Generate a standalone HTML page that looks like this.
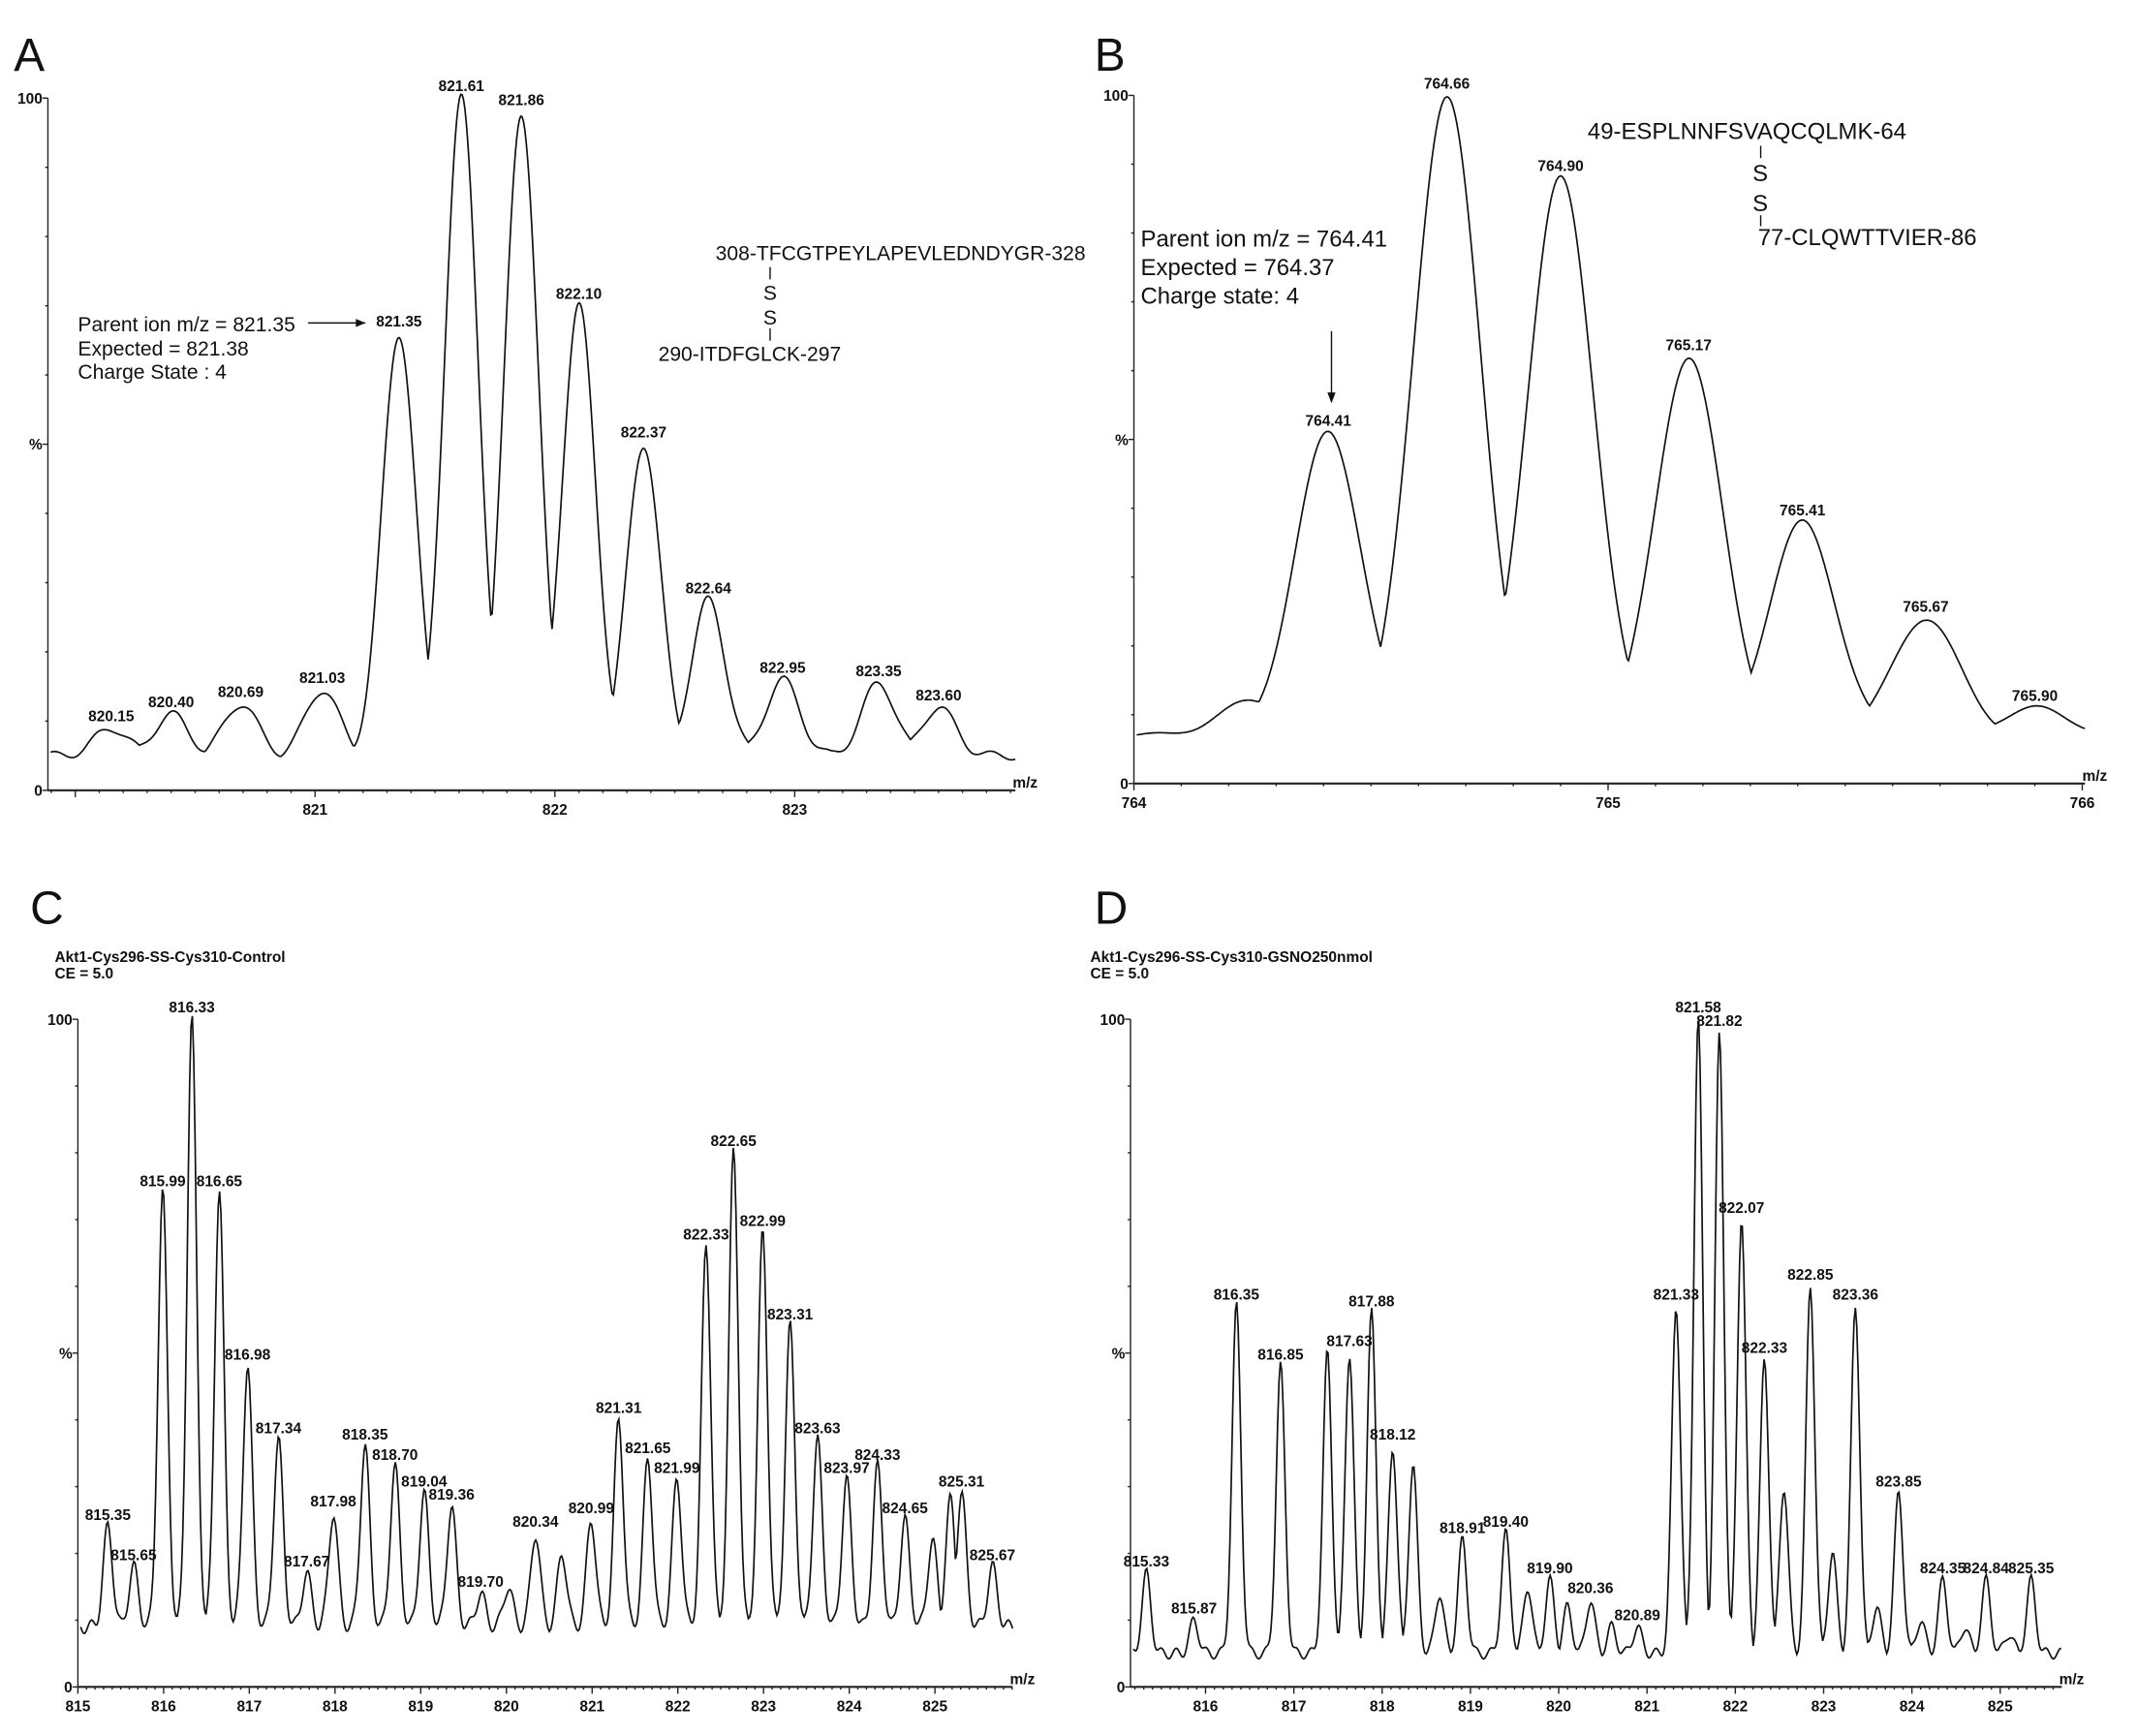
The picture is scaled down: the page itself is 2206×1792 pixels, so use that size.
<!DOCTYPE html>
<html><head><meta charset="utf-8"><style>
html,body{margin:0;padding:0;background:#fff}
svg{display:block}
text{font-family:"Liberation Sans",sans-serif;fill:#111}
.pl{font-size:11px;font-weight:bold}
.tk{font-size:11px;font-weight:bold}
.big{font-size:34px}
.ann{font-size:15px}
</style></head><body>
<svg id="fig" width="2206" height="1792" viewBox="0 0 1568 1274" xmlns="http://www.w3.org/2000/svg">
<text class="big" x="10" y="52">A</text>
<text class="big" x="803" y="52">B</text>
<text class="big" x="22" y="678">C</text>
<text class="big" x="803" y="678">D</text>
<text class="pl" x="40" y="706">Akt1-Cys296-SS-Cys310-Control</text>
<text class="pl" x="40" y="718">CE = 5.0</text>
<text class="pl" x="800" y="706">Akt1-Cys296-SS-Cys310-GSNO250nmol</text>
<text class="pl" x="800" y="718">CE = 5.0</text>
<g>
<text class="ann" x="57" y="243">Parent ion m/z = 821.35</text>
<text class="ann" x="57" y="261">Expected = 821.38</text>
<text class="ann" x="57" y="278">Charge State : 4</text>
<line x1="226" y1="237" x2="268" y2="237" stroke="#111"/><path d="M268,237 l-7,-3 v6z" fill="#111"/>
<text class="ann" x="525" y="191">308-TFCGTPEYLAPEVLEDNDYGR-328</text>
<line x1="565" y1="196" x2="565" y2="205" stroke="#111"/>
<text class="ann" x="560" y="220">S</text><text class="ann" x="560" y="238">S</text>
<line x1="565" y1="241" x2="565" y2="250" stroke="#111"/>
<text class="ann" x="483" y="265">290-ITDFGLCK-297</text>
</g>
<g>
<text class="ann" style="font-size:17px" x="837" y="181">Parent ion m/z = 764.41</text>
<text class="ann" style="font-size:17px" x="837" y="202">Expected = 764.37</text>
<text class="ann" style="font-size:17px" x="837" y="223">Charge state: 4</text>
<line x1="977" y1="243" x2="977" y2="292" stroke="#111"/><path d="M977,296 l-3,-8 h6z" fill="#111"/>
<text class="ann" style="font-size:17px" x="1165" y="102">49-ESPLNNFSVAQCQLMK-64</text>
<line x1="1292" y1="107" x2="1292" y2="116" stroke="#111"/>
<text class="ann" style="font-size:17px" x="1286" y="133">S</text><text class="ann" style="font-size:17px" x="1286" y="155">S</text>
<line x1="1292" y1="158" x2="1292" y2="166" stroke="#111"/>
<text class="ann" style="font-size:17px" x="1290" y="180">77-CLQWTTVIER-86</text>
</g>
</svg>
<script>
// Panel A data
const aMz=[820.15,820.40,820.69,821.03,821.35,821.61,821.86,822.10,822.37,822.64,822.95,823.35,823.60];
const aInt=[9,11,12.5,14.5,66,100,98,70,50,27.5,16,15.5,12];
const aTicks=[821,822,823];
// Panel B data
const bMz=[764.25,764.41,764.66,764.90,765.17,765.41,765.67,765.90];
const bInt=[12,51,100,88,62,38,24,11];
const bLabeled=[false,true,true,true,true,true,true,true];
const bTicks=[764,765,766];
// Panel C data
const cMz=[815.35,815.65,815.99,816.33,816.65,816.98,817.34,817.67,817.98,818.35,818.70,819.04,819.36,819.70,820.02,820.34,820.65,820.99,821.31,821.65,821.99,822.33,822.65,822.99,823.31,823.63,823.97,824.33,824.65,824.97,825.18,825.31,825.67];
const cInt=[24,18,74,100,74,48,37,17,26,36,33,29,27,14,15,23,20,25,40,34,31,66,80,68,54,37,31,33,25,22,28,29,18];
const cLabeled=[1,1,1,1,1,1,1,1,1,1,1,1,1,1,0,1,0,1,1,1,1,1,1,1,1,1,1,1,1,0,0,1,1];
const cTicks=[815,816,817,818,819,820,821,822,823,824,825];
// Panel D data
const dMz=[815.33,815.87,816.35,816.85,817.38,817.63,817.88,818.12,818.35,818.65,818.91,819.40,819.65,819.90,820.10,820.36,820.60,820.89,821.33,821.58,821.82,822.07,822.33,822.55,822.85,823.10,823.36,823.60,823.85,824.10,824.35,824.60,824.84,825.10,825.35];
const dInt=[17,10,57,48,50,50,56,36,33,14,22,23,15,16,12,13,9,9,57,100,98,70,49,30,60,20,57,12,29,10,16,9,16,8,16];
const dLabeled=[1,1,1,1,0,1,1,1,0,0,1,1,0,1,0,1,0,1,1,1,1,1,1,0,1,0,1,0,1,0,1,0,1,0,1];
const dTicks=[816,817,818,819,820,821,822,823,824,825];

const NS="http://www.w3.org/2000/svg";
const svg=document.getElementById('fig');
function mk(tag,attrs,parent){const e=document.createElementNS(NS,tag);for(const k in attrs)e.setAttribute(k,attrs[k]);(parent||svg).appendChild(e);return e;}

function panel(p){
  const g=mk('g',{});
  
  
  const X=m=>p.x0+(m-p.m0)*p.ppu;
  const Y=v=>p.yb-(v/100)*(p.yb-p.yt);
  const ya=mk('line',{x1:p.x0,y1:p.yt,x2:p.x0,y2:p.yb,stroke:'#222','stroke-width':1},g);
  
  
  const xa=mk('line',{x1:p.x0,y1:p.yb,x2:p.xe,y2:p.yb,stroke:'#222','stroke-width':1.5},g);
  
  
  for(let v=0;v<=100;v+=10){mk('line',{x1:p.x0-(v%50?2:4),y1:Y(v),x2:p.x0,y2:Y(v),stroke:'#222'},g);}
  let t=mk('text',{x:p.x0-4,y:Y(100)+4,'text-anchor':'end',class:'tk'},g);t.textContent='100';
  
  
  t=mk('text',{x:p.x0-4,y:Y(50)+4,'text-anchor':'end',class:'tk'},g);t.textContent='%';
  
  
  t=mk('text',{x:p.x0-4,y:Y(0)+4,'text-anchor':'end',class:'tk'},g);t.textContent='0';
  
  
  for(let m=Math.ceil(p.m0*10)/10;X(m)<=p.xe;m+=0.1){const mm=Math.round(m*10)/10;const major=Math.abs(mm-Math.round(mm))<1e-6;mk('line',{x1:X(mm),y1:p.yb,x2:X(mm),y2:p.yb+(major?5:2),stroke:'#222'},g);}
  p.ticks.forEach(v=>{const tt=mk('text',{x:X(v),y:p.yb+18,'text-anchor':'middle',class:'tk'},g);tt.textContent=v;
    
    });
  t=mk('text',{x:p.xe-2,y:p.yb-2,'text-anchor':'start',class:'tk'},g);t.textContent='m/z';
  
  
  let d='';
  for(let px=p.x0+2;px<=p.xe;px+=1){
    const m=p.m0+(px-p.x0)/p.ppu;
    let v=p.base+p.wob*Math.sin(m*37);
    let s=0;
    p.mz.forEach((c,i)=>{const gg=(p.int[i]-p.base)*Math.exp(-Math.pow(m-c,2)/(2*p.sig*p.sig));s=Math.max(s,gg);});
    v+=s;
    d+=(d?'L':'M')+px.toFixed(1)+','+Y(v).toFixed(1);
  }
  const path=mk('path',{d:d,fill:'none',stroke:'#111','stroke-width':1.2},g);
  
  
  p.mz.forEach((c,i)=>{if(p.lab&&!p.lab[i])return;
    const tt=mk('text',{x:X(c),y:Y(p.int[i])-5,'text-anchor':'middle',class:'pl'},g);tt.textContent=c.toFixed(2);
    
    });
}
panel({name:'panel-a-spectrum',x0:35,xe:745,m0:819.886,ppu:176,yt:72,yb:580,mz:aMz,int:aInt,ticks:aTicks,base:5,wob:0.6,sig:0.07});
panel({name:'panel-b-spectrum',x0:832,xe:1530,m0:764,ppu:348,yt:70,yb:575,mz:bMz,int:bInt,lab:bLabeled,ticks:bTicks,base:7,wob:0.3,sig:0.07});
panel({name:'panel-c-spectrum',x0:57,xe:743,m0:815,ppu:62.9,yt:748,yb:1238,mz:cMz,int:cInt,lab:cLabeled,ticks:cTicks,base:9,wob:1,sig:0.055});
panel({name:'panel-d-spectrum',x0:829.5,xe:1513,m0:815.15,ppu:64.8,yt:748,yb:1238,mz:dMz,int:dInt,lab:dLabeled,ticks:dTicks,base:5,wob:0.8,sig:0.05});
</script>
</body></html>
